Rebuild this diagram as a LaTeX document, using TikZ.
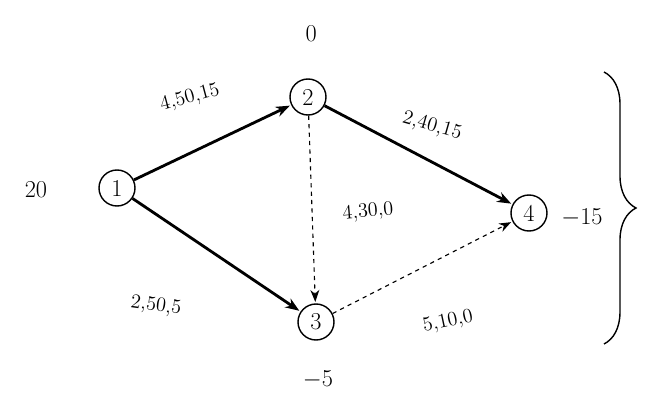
\documentclass[tikz,border=0pt]{standalone}
\usepackage{tikz}
\usetikzlibrary{arrows.meta, decorations.pathreplacing}

\begin{document}
\begin{tikzpicture}[
		nodo/.style={draw, circle, line width=1pt, minimum size=0.9cm, inner sep=0pt, font=\LARGE},
		arco/.style={-{Stealth[length=3.5mm]}, line width=2pt, shorten >=1pt},
		arcod/.style={-{Stealth[length=3mm]}, dashed, line width=0.8pt, shorten >=1pt},
		etiq/.style={font=\Large}]
			% Frame:
			\useasboundingbox (0, 0) rectangle (16.7, 10.1);
			% Nodes:
			\node[nodo](N1) at (2.925, 5.4){1};
			\node[nodo](N2) at (7.7, 7.675){2};
			\node[nodo](N3) at (7.9, 2.05){3};
			\node[nodo](N4) at (13.225, 4.775){4};
			% Supplies:
			\node[font=\LARGE](S1) at (0.9, 5.35){20};
			\node[font=\LARGE](S2) at (7.78, 9.25){0};
			\node[font=\LARGE](S3) at (7.95, 0.6){$-5$};
			\node[font=\LARGE](S4) at (14.55, 4.65){$-15$};
			% Arcs:
			\draw[arco] (N1) -- (N2);
			\draw[arco] (N2) -- (N4);
			\draw[arco] (N1) -- (N3);
			\draw[arcod] (N2) -- (N3);
			\draw[arcod] (N3) -- (N4);
			% Labels:
			\node[etiq, rotate=15](L12) at (4.75, 7.65){4,50,15};
			\node[etiq, rotate=-16](L24) at (10.8, 6.95){2,40,15};
			\node[etiq, rotate=5](L23) at (9.2, 4.8){4,30,0};
			\node[etiq, rotate=-8](L13) at (3.9, 2.45){2,50,5};
			\node[etiq, rotate=12](L34) at (11.2, 2.05){5,10,0};
			% Brace:
			\draw[line width=1pt, decorate, decoration={brace, amplitude=0.8cm}] (15.1, 8.3) -- (15.1, 1.5);
		\end{tikzpicture}
\end{document}
